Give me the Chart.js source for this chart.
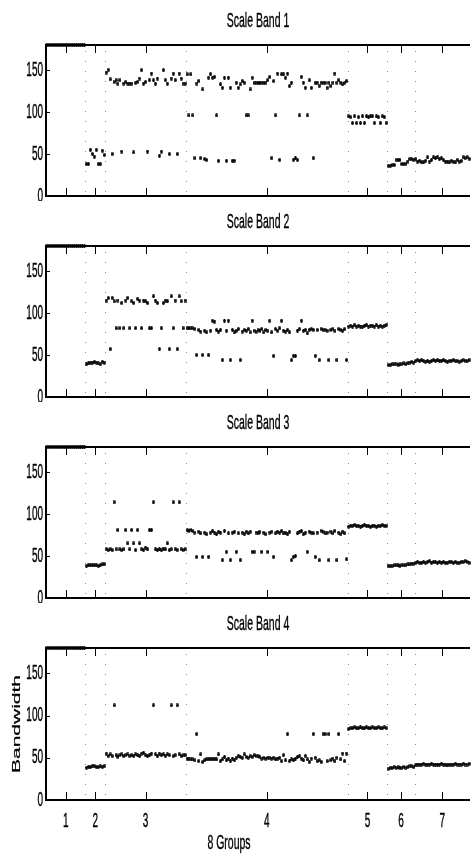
<!DOCTYPE html>
<html>
<head>
<meta charset="utf-8">
<script src="https://cdn.jsdelivr.net/npm/chart.js@4.4.0/dist/chart.umd.min.js"></script>
<style>
  html, body { margin: 0; padding: 0; background: #fff; }
  #wrap { position: relative; width: 475px; height: 854px; overflow: hidden; }
  canvas { position: absolute; left: 0; }
</style>
</head>
<body>
<div id="wrap">
  <canvas id="band1" width="475" height="201" style="top:0px"></canvas>
  <canvas id="band2" width="475" height="201" style="top:201px"></canvas>
  <canvas id="band3" width="475" height="201" style="top:402px"></canvas>
  <canvas id="band4" width="475" height="251" style="top:603px"></canvas>
</div>
<script>
// group tick labels and y ticks
const groupLabels = ['1', '2', '3', '4', '5', '6', '7'];
const yTicks = [0, 50, 100, 150];
const titles = ['Scale Band 1', 'Scale Band 2', 'Scale Band 3', 'Scale Band 4'];
const xTitle = '8 Groups';
const yTitle = 'Bandwidth';

// bandwidth per sample, one list per group
const band1 = [
  [180,180,180,180,180,180,180,180,180,180,180,180,180,180,180,180,180,180,180,180],
  [38,38,55,50,47,55,38,38,54,49],
  [147,150,139,50,136,138,134,138,53,134,136,134,134,134,52,135,136,140,150,134,
   136,53,138,146,138,134,140,48,53,150,138,134,50,140,146,138,50,146,140,134,134],
  [145,96,145,96,45,134,137,45,127,44, 43,141,145,141,142,96,42,133,129,141,
   42,141,129,42,42,135,129,133,137,135, 96,96,127,141,135,135,135,135,135,135,
   135,138,142,45,137,96,146,43,145,145, 141,146,131,135,43,45,43,96,142,135,
   129,96,138,129,45,135,135,131,135,135, 135,129,135,131,135,146,135,138,135,133,
   135,137],
  [95,94,87,95,87,94,87,95,87,95,94,95,95,87,95,94,87,95,94,87],
  [36,36,37,37,43,43,43,38,38,38,41,44,44,43],
  [44,41,42,40,40,42,46,41,43,46,45,47,44,45,43,41,41,40,42,41,40,43,41,42,46,45,46,44]
];

const band2 = [
  [180,180,180,180,180,180,180,180,180,180,180,180,180,180,180,180,180,180,180,180],
  [39,40,41,41,42,41,40,39,42,41],
  [115,118,57,118,114,82,115,82,112,82, 115,118,82,114,112,82,117,115,82,115,
   114,112,82,82,120,115,112,57,82,112, 115,114,57,120,82,115,57,120,114,82, 115],
  [82,82,82,82,81,50,80,78,50,79, 77,50,79,91,90,80,78,80,44,91,
   79,91,44,80,77,79,81,44,78,80, 79,81,77,91,79,78,80,79,81,77,
   80,79,91,77,49,81,79,82,91,79, 78,80,77,44,49,49,79,81,91,79,
   80,76,80,81,80,49,80,44,81,80, 80,79,44,80,81,79,44,81,80,79,
   81,44],
  [84,85,84,86,84,85,84,84,85,86,84,85,85,84,86,84,85,84,85,86],
  [38,38,39,39,39,38,39,39,40,39,40,41,42,41],
  [43,44,43,44,43,42,43,42,43,44,43,44,43,43,44,43,42,43,43,44,43,43,42,43,44,43,43,44]
];

const band3 = [
  [180,180,180,180,180,180,180,180,180,180,180,180,180,180,180,180,180,180,180,180],
  [38,39,39,39,39,39,38,39,40,40],
  [58,57,58,57,114,58,81,58,57,58, 81,65,58,81,65,57,81,65,58,57,
   60,58,81,81,114,58,57,58,57,59, 58,65,57,58,114,58,57,114,58,57, 58],
  [81,80,81,80,78,49,79,77,49,78, 76,49,78,80,78,76,79,78,45,80,
   55,77,45,78,79,55,77,45,78,76, 79,77,79,55,55,78,77,79,55,78,
   76,55,78,79,49,77,79,78,80,77, 78,76,79,45,49,50,77,79,80,76,
   78,55,79,78,77,49,78,45,80,79, 77,78,45,79,77,80,45,78,76,79,
   77,46],
  [85,86,86,87,86,86,85,86,87,86,86,85,86,86,85,86,86,87,86,86],
  [38,38,38,39,39,39,38,39,39,39,40,40,41,41],
  [42,43,42,42,43,42,43,44,42,43,43,42,43,42,43,42,42,43,43,42,43,42,42,43,43,44,43,42]
];

const band4 = [
  [180,180,180,180,180,180,180,180,180,180,180,180,180,180,180,180,180,180,180,180],
  [38,39,39,40,40,39,39,40,39,40],
  [55,52,54,52,112,53,51,53,54,52, 53,54,52,53,52,54,53,52,55,56,
   53,52,53,55,112,54,52,55,53,54, 52,54,53,112,52,53,112,54,52,53, 53],
  [49,49,48,48,47,78,46,54,45,47, 48,48,49,48,49,48,54,46,48,51,
   47,49,46,49,47,50,52,51,50,54, 51,50,52,51,53,52,52,51,49,50,
   49,50,50,49,50,48,49,50,46,53, 47,78,46,48,47,49,51,52,49,47,
   52,48,45,49,78,50,46,47,45,78, 78,46,78,47,49,46,50,78,48,55,
   46,55],
  [84,85,85,86,85,85,86,85,85,86,85,85,86,85,85,86,85,85,86,85],
  [37,38,38,39,38,39,38,38,39,38,39,40,40,39],
  [41,42,42,42,43,42,42,42,43,42,42,42,42,43,42,42,41,42,42,42,43,42,42,42,43,42,42,43]
];

const bands = [band1, band2, band3, band4];

// group edges (in sample units) from the group sizes
const groupEdges = [0.5];
band1.forEach(g => groupEdges.push(groupEdges[groupEdges.length - 1] + g.length));
const groupCenters = groupLabels.map((l, k) => (groupEdges[k] + groupEdges[k + 1]) / 2);

const SX = 0.5; // squeezed look of the original figure
const FONT = '"Liberation Sans", Arial, Helvetica, sans-serif';

function squeezedText(ctx, text, x, y, size, align, rotate) {
  ctx.save();
  ctx.translate(x, y);
  ctx.scale(SX, 1);
  if (rotate) ctx.rotate(-Math.PI / 2);
  ctx.font = size + 'px ' + FONT;
  ctx.textAlign = align;
  ctx.textBaseline = 'middle';
  ctx.fillStyle = '#000';
  ctx.strokeStyle = '#000';
  ctx.lineWidth = 0.4;
  ctx.fillText(text, 0, 0);
  ctx.strokeText(text, 0, 0);
  ctx.restore();
}

// small dot marker like matlab '.'
const dot = document.createElement('canvas');
dot.width = 3; dot.height = 4;
const dc = dot.getContext('2d');
dc.fillStyle = '#000';
dc.beginPath();
dc.ellipse(1.5, 2, 1.4, 2, 0, 0, Math.PI * 2);
dc.fill();

const matlabAxes = {
  id: 'matlabAxes',
  beforeDatasetsDraw(chart) {
    const { ctx, chartArea: a, scales: { x } } = chart;
    ctx.save();
    ctx.strokeStyle = '#888';
    ctx.lineWidth = 1;
    ctx.setLineDash([1, 9]);
    groupEdges.slice(1, -1).forEach(b => {
      const px = Math.round(x.getPixelForValue(b)) + 0.5;
      ctx.beginPath();
      ctx.moveTo(px, a.top + 6);
      ctx.lineTo(px, a.bottom);
      ctx.stroke();
    });
    ctx.restore();
  },
  afterDatasetsDraw(chart, args, opts) {
    const { ctx, chartArea: a, scales: { x, y } } = chart;
    ctx.save();
    ctx.strokeStyle = '#000';
    // ticks
    ctx.lineWidth = 1;
    yTicks.forEach(v => {
      const py = Math.round(y.getPixelForValue(v)) + 0.5;
      ctx.beginPath(); ctx.moveTo(a.left, py); ctx.lineTo(a.left + 4, py); ctx.stroke();
    });
    groupCenters.forEach(v => {
      const px = Math.round(x.getPixelForValue(v)) + 0.5;
      ctx.beginPath(); ctx.moveTo(px, a.bottom); ctx.lineTo(px, a.bottom - 8); ctx.stroke();
      ctx.beginPath(); ctx.moveTo(px, a.top); ctx.lineTo(px, a.top + 8); ctx.stroke();
    });
    // box
    ctx.lineWidth = 2;
    ctx.beginPath();
    ctx.moveTo(a.right, a.top); ctx.lineTo(a.left, a.top);
    ctx.lineTo(a.left, a.bottom); ctx.lineTo(a.right, a.bottom);
    ctx.stroke();
    ctx.restore();

    // labels
    yTicks.forEach(v => squeezedText(ctx, String(v), a.left - 3, y.getPixelForValue(v), 20, 'right'));
    squeezedText(ctx, opts.title, (a.left + a.right) / 2, a.top - 24, 21, 'center');
    if (opts.showX) {
      groupCenters.forEach((v, k) => squeezedText(ctx, groupLabels[k], x.getPixelForValue(v), a.bottom + 21, 20, 'center'));
      squeezedText(ctx, xTitle, 229, a.bottom + 43, 21, 'center');
      squeezedText(ctx, yTitle, 17, (a.top + a.bottom) / 2, 21, 'center', true);
    }
  }
};

bands.forEach((band, b) => {
  const points = [];
  let i = 1;
  band.forEach(g => g.forEach(v => { points.push({ x: i, y: v }); i++; }));
  const last = b === bands.length - 1;
  new Chart(document.getElementById('band' + (b + 1)), {
    type: 'scatter',
    data: {
      datasets: [{
        data: points,
        pointStyle: dot,
        pointRadius: 2,
        showLine: false,
        clip: false
      }]
    },
    options: {
      animation: false,
      responsive: false,
      devicePixelRatio: 1,
      events: [],
      layout: { padding: { left: 46, right: 0, top: 45, bottom: last ? 54 : 4 } },
      plugins: {
        legend: { display: false },
        tooltip: { enabled: false },
        matlabAxes: { title: titles[b], showX: last }
      },
      scales: {
        x: { type: 'linear', display: false, min: groupEdges[0], max: groupEdges[groupEdges.length - 1] },
        y: { type: 'linear', display: false, min: 0, max: 180 }
      }
    },
    plugins: [matlabAxes]
  });
});
</script>
</body>
</html>
